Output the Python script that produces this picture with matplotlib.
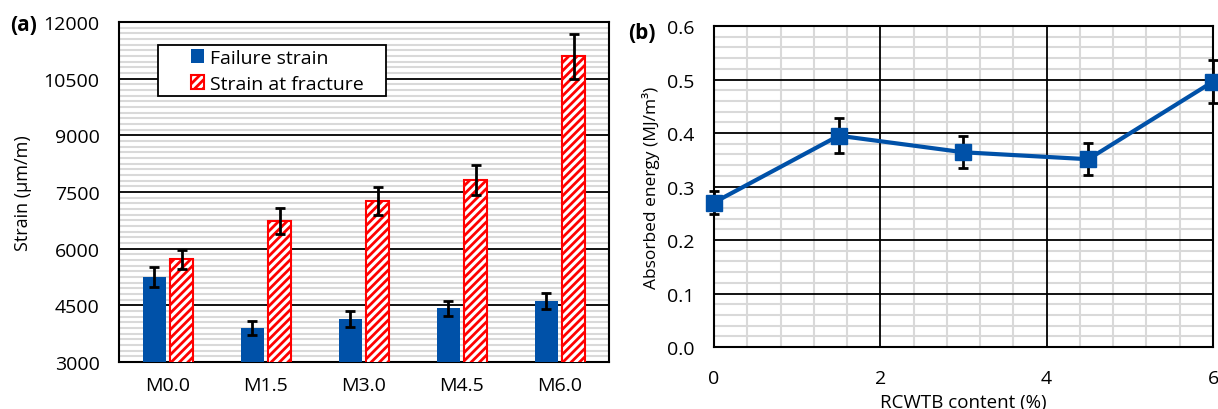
import matplotlib.pyplot as plt
import numpy as np
from matplotlib.patches import Rectangle
from matplotlib.ticker import MultipleLocator, FixedLocator, FormatStrFormatter

plt.rcParams['font.family'] = ['Open Sans', 'DejaVu Sans']
plt.rcParams['hatch.linewidth'] = 2.0
plt.rcParams['hatch.color'] = '#ff0000'

# (a) strain data
mixes = ["M0.0", "M1.5", "M3.0", "M4.5", "M6.0"]
failure_strain = [5250, 3890, 4140, 4420, 4615]
failure_err = [270, 185, 210, 200, 210]
fracture_strain = [5725, 6730, 7260, 7820, 11090]
fracture_err = [250, 345, 370, 400, 590]

# (b) absorbed energy
content = [0, 1.5, 3, 4.5, 6]
energy = [0.27, 0.395, 0.364, 0.351, 0.496]
energy_err = [0.022, 0.033, 0.030, 0.030, 0.040]

blue = "#0051a8"

fig = plt.figure(figsize=(12.18, 4.10), dpi=100)
ax1 = fig.add_axes([0.0977, 0.1146, 0.4023, 0.8293])
ax2 = fig.add_axes([0.5862, 0.1512, 0.4097, 0.7829])

# graph (a):
x = np.arange(len(mixes))
w = 0.235
ax1.bar(x - 0.14, failure_strain, w, color=blue, label="Failure strain", zorder=3)
ax1.bar(x + 0.14, fracture_strain, w, color="white", edgecolor="#ff0000", hatch="////",
        linewidth=1.5, label="Strain at fracture", zorder=3)
ax1.errorbar(x - 0.14, failure_strain, yerr=failure_err, fmt="none", ecolor="black",
             elinewidth=2, capsize=3.5, capthick=2, zorder=4)
ax1.errorbar(x + 0.14, fracture_strain, yerr=fracture_err, fmt="none", ecolor="black",
             elinewidth=2, capsize=3.5, capthick=2, zorder=4)
ax1.set_ylim(3000, 12000)
ax1.set_xlim(-0.5, 4.5)
ax1.set_xticks(x)
ax1.set_xticklabels(mixes)
ax1.yaxis.set_major_locator(MultipleLocator(1500))
ax1.yaxis.set_minor_locator(FixedLocator([v for v in range(3000, 12001, 150) if v % 1500]))
ax1.grid(True, which="minor", axis="y", color="#d9d9d9", linewidth=1.5, zorder=0)
ax1.grid(True, which="major", axis="y", color="black", linewidth=1.3, zorder=1)
ax1.tick_params(axis="both", which="both", length=0, labelsize=14)
ax1.tick_params(axis="x", pad=10)
ax1.tick_params(axis="y", pad=14)
ax1.set_ylabel("Strain (μm/m)", fontsize=13, labelpad=8)

# legend box, drawn as a frame so the padding can match
ax1.add_patch(Rectangle((0.0796, 0.782), 0.465, 0.15, transform=ax1.transAxes,
                        facecolor="white", edgecolor="black", linewidth=1.3, zorder=5))
leg = ax1.legend(loc="upper left", bbox_to_anchor=(0.138, 0.932), borderaxespad=0,
                 fontsize=14, frameon=False, handlelength=0.7, handleheight=0.7,
                 handletextpad=0.3, borderpad=0.2, labelspacing=0.4)
leg.set_zorder(6)
for s in ax1.spines.values():
    s.set_linewidth(1.5)
fig.text(0.008, 0.925, "(a)", fontsize=15, fontweight="bold")

# graph (b):
ax2.errorbar(content, energy, yerr=energy_err, color=blue, linewidth=3, marker="s",
             markersize=11, ecolor="black", elinewidth=2, capsize=3.5, capthick=2,
             zorder=4, clip_on=False)
ax2.set_xlim(0, 6)
ax2.set_ylim(0, 0.6)
ax2.set_xticks([0, 2, 4, 6])
ax2.set_yticks([0, 0.1, 0.2, 0.3, 0.4, 0.5, 0.6])
ax2.xaxis.set_minor_locator(FixedLocator([i * 0.4 for i in range(16) if i % 5]))
ax2.yaxis.set_minor_locator(FixedLocator([i * 0.02 for i in range(31) if i % 5]))
ax2.yaxis.set_major_formatter(FormatStrFormatter("%.1f"))
ax2.grid(True, which="minor", color="#d9d9d9", linewidth=1.5)
ax2.set_axisbelow(True)
# major grid on top of the minor one
for gx in ax2.get_xticks():
    ax2.axvline(gx, color="black", linewidth=1.3, zorder=1)
for gy in ax2.get_yticks():
    ax2.axhline(gy, color="black", linewidth=1.3, zorder=1)
ax2.tick_params(axis="both", which="both", length=0, labelsize=14)
ax2.tick_params(axis="x", pad=16)
ax2.tick_params(axis="y", pad=14)
ax2.set_xlabel("RCWTB content (%)", fontsize=13.5, labelpad=4)
ax2.set_ylabel("Absorbed energy (MJ/m³)", fontsize=12.5, labelpad=5)
for s in ax2.spines.values():
    s.set_linewidth(1.5)
fig.text(0.516, 0.905, "(b)", fontsize=15, fontweight="bold")

fig.savefig("out.png", dpi=100)
